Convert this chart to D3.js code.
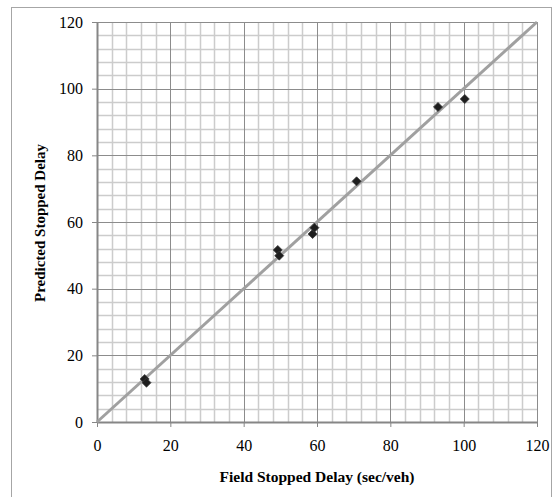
<!DOCTYPE html>
<html>
<head>
<meta charset="utf-8">
<script src="https://cdn.jsdelivr.net/npm/d3@7"></script>
<style>
  html, body { margin: 0; padding: 0; background: #fff; }
  svg { display: block; }
  text { font-family: 'Liberation Serif', 'Times New Roman', serif; }
</style>
</head>
<body>
<svg id="chart" width="553" height="497"></svg>
<script>
// Data
const fieldDelay     = [13.0, 13.5, 49.3, 49.7, 58.8, 59.3, 70.8, 93.0, 100.3];
const predictedDelay = [12.9, 11.8, 51.6, 49.9, 56.4, 58.3, 72.2, 94.5, 96.9];
const lineOfEquality = [[0, 0], [120, 120]];
const tickValues = [0, 20, 40, 60, 80, 100, 120];
const minorValues = d3.range(0, 121, 4);
const xTitle = "Field Stopped Delay (sec/veh)";
const yTitle = "Predicted Stopped Delay";

const svg = d3.select("#chart");
const L = 97, R = 537, T = 22, B = 422;
const fontFam = "'Liberation Serif', 'Times New Roman', serif";

// outer frame
svg.append("rect").attr("x", 11.5).attr("y", 7.5).attr("width", 540).attr("height", 500)
  .attr("fill", "none").attr("stroke", "#a6a6a6").attr("stroke-width", 1);

const x = d3.scaleLinear().domain([0, 120]).range([L, R]);
const y = d3.scaleLinear().domain([0, 120]).range([B, T]);

const g = svg.append("g");
// minor grid
g.selectAll("line.vminor").data(minorValues.filter(v => v % 20 !== 0)).enter().append("line")
  .attr("x1", d => Math.round(x(d)) + 0.5).attr("x2", d => Math.round(x(d)) + 0.5)
  .attr("y1", T).attr("y2", B).attr("stroke", "#cccccc").attr("stroke-width", 1.5);
g.selectAll("line.hminor").data(minorValues.filter(v => v % 20 !== 0)).enter().append("line")
  .attr("y1", d => Math.round(y(d)) + 0.5).attr("y2", d => Math.round(y(d)) + 0.5)
  .attr("x1", L).attr("x2", R).attr("stroke", "#cccccc").attr("stroke-width", 1.5);
// major grid
g.selectAll("line.vmajor").data(tickValues.filter(v => v > 0)).enter().append("line")
  .attr("x1", d => Math.round(x(d)) + 0.5).attr("x2", d => Math.round(x(d)) + 0.5)
  .attr("y1", T).attr("y2", B).attr("stroke", "#8c8c8c").attr("stroke-width", 1);
g.selectAll("line.hmajor").data(tickValues.filter(v => v > 0)).enter().append("line")
  .attr("y1", d => Math.round(y(d)) + 0.5).attr("y2", d => Math.round(y(d)) + 0.5)
  .attr("x1", L).attr("x2", R).attr("stroke", "#8c8c8c").attr("stroke-width", 1);

// axes
const xAxis = svg.append("g").attr("transform", `translate(0,${B})`)
  .call(d3.axisBottom(x).tickValues(tickValues).tickSize(5).tickPadding(13).tickSizeOuter(0));
const yAxis = svg.append("g").attr("transform", `translate(${L},0)`)
  .call(d3.axisLeft(y).tickValues(tickValues).tickSize(5).tickPadding(9).tickSizeOuter(0));
[xAxis, yAxis].forEach(a => {
  a.attr("font-family", fontFam).attr("font-size", 16);
  a.select(".domain").attr("stroke", "#868686").attr("stroke-width", 2);
  a.selectAll(".tick line").attr("stroke", "#868686").attr("stroke-width", 1);
  a.selectAll(".tick text").attr("fill", "#000")
    .style("font-family", fontFam).style("font-size", "16px").style("font-weight", "normal");
});

// line of equality
svg.append("path").datum(lineOfEquality)
  .attr("d", d3.line().x(d => x(d[0])).y(d => y(d[1])))
  .attr("stroke", "#a0a0a0").attr("stroke-width", 3).attr("fill", "none");

// points
const sym = d3.symbol().type(d3.symbolDiamond2).size(52);
svg.selectAll("path.pt").data(fieldDelay.map((v, i) => [v, predictedDelay[i]])).enter()
  .append("path").attr("class", "pt")
  .attr("d", sym)
  .attr("transform", d => `translate(${x(d[0])},${y(d[1])})`)
  .attr("fill", "#1e1e1e").attr("stroke", "#3a3a3a").attr("stroke-width", 0.8);

// titles
svg.append("text").attr("x", (L + R) / 2).attr("y", 482).attr("text-anchor", "middle")
  .style("font-family", fontFam).attr("font-weight", "bold").attr("font-size", 15.5).text(xTitle);
svg.append("text").attr("transform", `translate(45,${223}) rotate(-90)`).attr("text-anchor", "middle")
  .style("font-family", fontFam).attr("font-weight", "bold").attr("font-size", 15).text(yTitle);
</script>
</body>
</html>
